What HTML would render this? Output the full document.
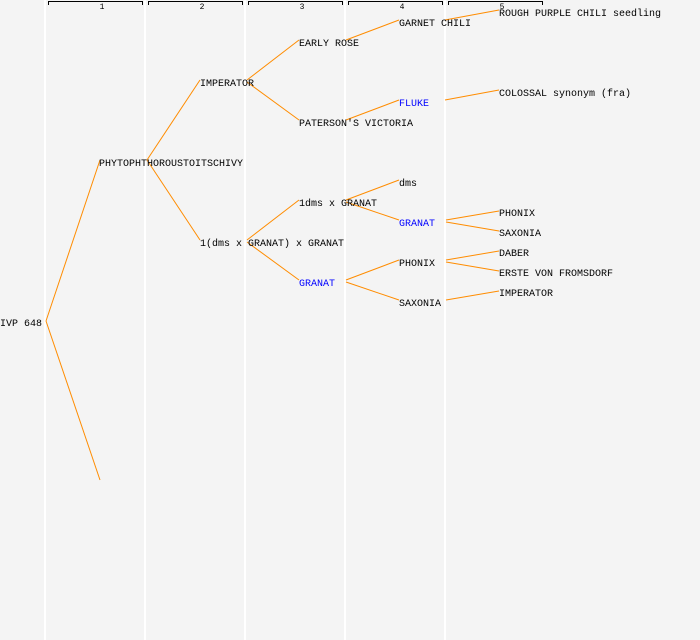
<!DOCTYPE html>
<html><head><meta charset="utf-8"><style>
html,body{margin:0;padding:0;background:#f4f4f4}
svg{display:block}
text{font-family:"Liberation Mono",monospace;font-size:10px;fill:#000}
.b{fill:#0000ff}
.n{font-size:8px;text-anchor:middle}
</style></head><body>
<svg width="700" height="640" viewBox="0 0 700 640" xmlns="http://www.w3.org/2000/svg">
<rect width="700" height="640" fill="#f4f4f4"/>
<g stroke="#ffffff" stroke-width="2">
<line x1="45" y1="0" x2="45" y2="640"/><line x1="145" y1="0" x2="145" y2="640"/>
<line x1="245" y1="0" x2="245" y2="640"/><line x1="345" y1="0" x2="345" y2="640"/>
<line x1="445" y1="0" x2="445" y2="640"/>
</g>
<g stroke="#000" stroke-width="1" fill="none">
<path d="M48.5,5V1.5H142.5V5"/><path d="M148.5,5V1.5H242.5V5"/><path d="M248.5,5V1.5H342.5V5"/>
<path d="M348.5,5V1.5H442.5V5"/><path d="M448.5,5V1.5H542.5V5"/>
</g>
<text class="n" x="102" y="9">1</text><text class="n" x="202" y="9">2</text><text class="n" x="302" y="9">3</text><text class="n" x="402" y="9">4</text><text class="n" x="502" y="9">5</text>
<g stroke="#ff8c00" stroke-width="1" fill="none">
<line x1="46" y1="321" x2="100" y2="160"/><line x1="46" y1="321" x2="100" y2="480"/>
<line x1="147" y1="160" x2="200" y2="80"/><line x1="147" y1="160" x2="200" y2="240"/>
<line x1="247" y1="80" x2="299" y2="40"/><line x1="247" y1="82" x2="299" y2="120"/>
<line x1="346" y1="40" x2="399" y2="20"/><line x1="346" y1="120" x2="399" y2="100"/>
<line x1="445" y1="20" x2="499" y2="10"/><line x1="445" y1="100" x2="499" y2="90"/>
<line x1="247" y1="240" x2="299" y2="200"/><line x1="247" y1="242" x2="299" y2="280"/>
<line x1="346" y1="200" x2="399" y2="180"/><line x1="346" y1="202" x2="399" y2="220"/>
<line x1="346" y1="280" x2="399" y2="260"/><line x1="346" y1="282" x2="399" y2="300"/>
<line x1="446" y1="220" x2="499" y2="211"/><line x1="446" y1="222" x2="499" y2="231"/>
<line x1="446" y1="260" x2="499" y2="251"/><line x1="446" y1="262" x2="499" y2="271"/>
<line x1="446" y1="300" x2="499" y2="291"/>
</g>
<text x="0" y="326">IVP 648</text>
<text x="99" y="166">PHYTOPHTHOROUSTOITSCHIVY</text>
<text x="200" y="86">IMPERATOR</text>
<text x="200" y="246">1(dms x GRANAT) x GRANAT</text>
<text x="299" y="46">EARLY ROSE</text>
<text x="299" y="126">PATERSON'S VICTORIA</text>
<text x="299" y="206">1dms x GRANAT</text>
<text x="299" y="286" class="b">GRANAT</text>
<text x="399" y="26">GARNET CHILI</text>
<text x="399" y="106" class="b">FLUKE</text>
<text x="399" y="186">dms</text>
<text x="399" y="226" class="b">GRANAT</text>
<text x="399" y="266">PHONIX</text>
<text x="399" y="306">SAXONIA</text>
<text x="499" y="16">ROUGH PURPLE CHILI seedling</text>
<text x="499" y="96">COLOSSAL synonym (fra)</text>
<text x="499" y="216">PHONIX</text>
<text x="499" y="236">SAXONIA</text>
<text x="499" y="256">DABER</text>
<text x="499" y="276">ERSTE VON FROMSDORF</text>
<text x="499" y="296">IMPERATOR</text>
</svg>
</body></html>
